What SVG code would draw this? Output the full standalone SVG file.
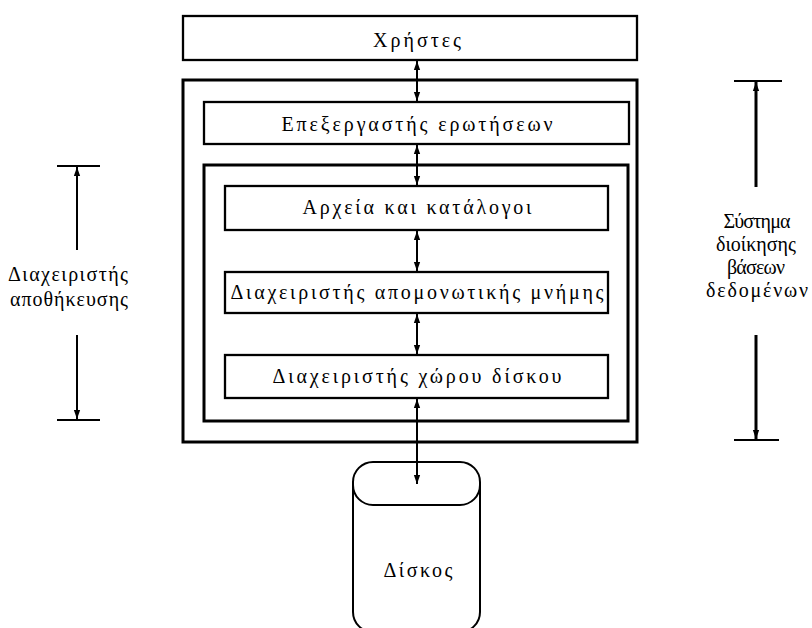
<svg xmlns="http://www.w3.org/2000/svg" width="812" height="628" viewBox="0 0 812 628">
<style>
text{font-family:"Liberation Serif","DejaVu Serif",serif;font-size:20px;fill:#000;text-anchor:middle}
.box{fill:none;stroke:#000;stroke-width:2.3}
.outer{fill:none;stroke:#000;stroke-width:3}
.ln{stroke:#000;stroke-width:2;fill:none}
.thk{stroke:#000;stroke-width:3;fill:none}
</style>
<defs>
<marker id="ah" viewBox="0 0 10 10" refX="10" refY="5" markerWidth="4.5" markerHeight="4.5" orient="auto-start-reverse" markerUnits="strokeWidth">
<path d="M0,1.5 L10,5 L0,8.5 Z" fill="#000"/>
</marker>
<marker id="ah3" viewBox="0 0 10 10" refX="10" refY="5" markerWidth="3" markerHeight="3.2" orient="auto-start-reverse" markerUnits="strokeWidth">
<path d="M0,1.5 L10,5 L0,8.5 Z" fill="#000"/>
</marker>
</defs>
<g id="users"><rect class="box" x="183" y="16" width="454" height="44"/><text x="417" y="47" textLength="88" lengthAdjust="spacing">Χρήστες</text></g>
<g id="dbms"><rect class="outer" x="183" y="80" width="454" height="362"/></g>
<g id="query"><rect class="box" x="204" y="102" width="425" height="42"/><text x="417" y="131" textLength="271" lengthAdjust="spacing">Επεξεργαστής ερωτήσεων</text></g>
<g id="storage"><rect class="outer" x="204" y="165" width="424" height="256"/></g>
<g id="files"><rect class="box" x="225" y="186" width="383" height="44"/><text x="417" y="214" textLength="229" lengthAdjust="spacing">Αρχεία και κατάλογοι</text></g>
<g id="buffer"><rect class="box" x="225" y="272" width="383" height="41"/><text x="417" y="299" textLength="373" lengthAdjust="spacing">Διαχειριστής απομονωτικής μνήμης</text></g>
<g id="diskmgr"><rect class="box" x="225" y="355" width="383" height="43"/><text x="417" y="383" textLength="289" lengthAdjust="spacing">Διαχειριστής χώρου δίσκου</text></g>
<g id="disk">
<rect class="ln" x="353" y="462" width="127" height="43" rx="20" ry="20"/>
<path class="ln" d="M353,482 V612 A20,20 0 0 0 373,632 H460 A20,20 0 0 0 480,612 V482"/>
<text x="418" y="577" textLength="69" lengthAdjust="spacing">Δίσκος</text>
</g>
<g id="label-storage">
<text x="68" y="281" textLength="120" lengthAdjust="spacing">Διαχειριστής</text>
<text x="69" y="306" textLength="118" lengthAdjust="spacing">αποθήκευσης</text>
</g>
<g id="label-dbms">
<text x="757" y="228" textLength="67" lengthAdjust="spacing">Σύστημα</text>
<text x="756" y="251" textLength="80" lengthAdjust="spacing">διοίκησης</text>
<text x="756" y="274" textLength="58" lengthAdjust="spacing">βάσεων</text>
<text x="757" y="297" textLength="102" lengthAdjust="spacing">δεδομένων</text>
</g>
<g id="connectors">
<line class="ln" x1="417" y1="61" x2="417" y2="101" marker-start="url(#ah)" marker-end="url(#ah)"/>
<line class="ln" x1="417" y1="145" x2="417" y2="185" marker-start="url(#ah)" marker-end="url(#ah)"/>
<line class="ln" x1="417" y1="231" x2="417" y2="271" marker-start="url(#ah)" marker-end="url(#ah)"/>
<line class="ln" x1="417" y1="314" x2="417" y2="354" marker-start="url(#ah)" marker-end="url(#ah)"/>
<line class="ln" x1="417" y1="399" x2="417" y2="484" marker-start="url(#ah)" marker-end="url(#ah)"/>
<line class="ln" x1="57" y1="166" x2="100" y2="166"/>
<line class="ln" x1="77" y1="250" x2="77" y2="167" marker-end="url(#ah)"/>
<line class="ln" x1="77" y1="335" x2="77" y2="419" marker-end="url(#ah)"/>
<line class="ln" x1="57" y1="420" x2="100" y2="420"/>
<line class="ln" x1="734" y1="81" x2="782" y2="81"/>
<line class="thk" x1="756" y1="187" x2="756" y2="82" marker-end="url(#ah3)"/>
<line class="thk" x1="756" y1="335" x2="756" y2="439" marker-end="url(#ah3)"/>
<line class="ln" x1="734" y1="440" x2="779" y2="440"/>
</g>
</svg>
